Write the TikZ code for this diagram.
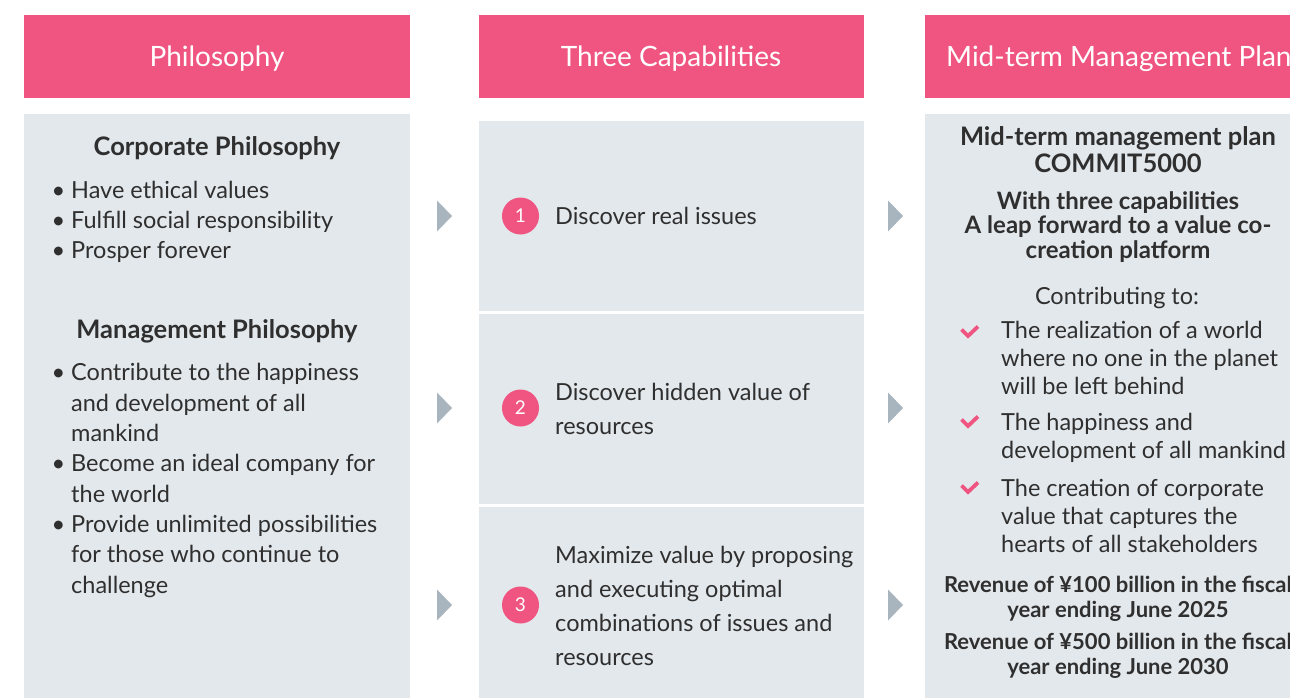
\documentclass[tikz,border=0pt]{standalone}
\usepackage{fontspec}
\setmainfont{Lato}
\definecolor{pinkh}{HTML}{EF5580}
\definecolor{panel}{HTML}{E3E8EC}
\definecolor{arrowg}{HTML}{A8B5BE}
\definecolor{txt}{HTML}{2F2F2F}
\begin{document}
\begin{tikzpicture}[x=1pt,y=-1pt,
  headbox/.style={fill=pinkh, draw=none, inner sep=0, anchor=north west},
  panelbox/.style={fill=panel, draw=none, inner sep=0, anchor=north west},
  htext/.style={text=white, font=\fontsize{28}{32}\selectfont, inner sep=0, anchor=base},
  body/.style={text=txt, font=\fontsize{23.5}{30}\selectfont, inner sep=0, align=left, anchor=base west},
  subhead/.style={text=txt, font=\bfseries\fontsize{25.5}{27}\selectfont, inner sep=0, align=center, anchor=base},
  numc/.style={circle, fill=pinkh, text=white, minimum size=37pt, inner sep=0, font=\fontsize{19}{19}\selectfont},
  tri/.style={fill=arrowg, draw=none},
  tick/.style={draw=pinkh, line width=3.8pt, line join=miter}
]
\clip (0,0) rectangle (1290,698);
\fill[white] (0,0) rectangle (1290,698);

% headers
\node[headbox, minimum width=386pt, minimum height=83pt] (h1) at (24,15) {};
\node[headbox, minimum width=385pt, minimum height=83pt] (h2) at (479,15) {};
\node[headbox, minimum width=400pt, minimum height=83pt] (h3) at (925,15) {};
\node[htext] (h1t) at (217,67) {Philosophy};
\node[htext] (h2t) at (671,67) {Three Capabilities};
\node[htext, anchor=base west] (h3t) at (946,67) {Mid-term Management Plan};

% panels
\node[panelbox, minimum width=386pt, minimum height=600pt] (p1) at (24,114) {};
\node[panelbox, minimum width=385pt, minimum height=190pt] (p2a) at (479,121) {};
\node[panelbox, minimum width=385pt, minimum height=190pt] (p2b) at (479,314) {};
\node[panelbox, minimum width=385pt, minimum height=200pt] (p2c) at (479,507) {};
\node[panelbox, minimum width=400pt, minimum height=600pt] (p3) at (925,114) {};

% arrows
\foreach \yy in {216,408,605}{
  \fill[tri] (437,\yy-15.5) -- (452,\yy) -- (437,\yy+15.5) -- cycle;
  \fill[tri] (888,\yy-15.5) -- (903,\yy) -- (888,\yy+15.5) -- cycle;
}

% column 1 (base anchor = baseline of last line)
\node[subhead] (cp) at (217,156) {Corporate Philosophy};
\node[body] (cpl) at (71,258) {\llap{\textbullet\ }Have ethical values\\\llap{\textbullet\ }Fulfill social responsibility\\\llap{\textbullet\ }Prosper forever};
\node[subhead] (mp) at (217,338) {Management Philosophy};
\node[body, font=\fontsize{23.5}{30.3}\selectfont] (mpl) at (71,593) {\llap{\textbullet\ }Contribute to the happiness\\and development of all\\mankind\\\llap{\textbullet\ }Become an ideal company for\\the world\\\llap{\textbullet\ }Provide unlimited possibilities\\for those who continue to\\challenge};

% column 2
\node[numc] (n1) at (520.5,216) {1};
\node[numc] (n2) at (520.5,408) {2};
\node[numc] (n3) at (520.5,605) {3};
\node[body, font=\fontsize{23.5}{34}\selectfont] (c1) at (555,224) {Discover real issues};
\node[body, font=\fontsize{23.5}{34}\selectfont] (c2) at (555,434) {Discover hidden value of\\resources};
\node[body, font=\fontsize{23.5}{34}\selectfont] (c3) at (555,665) {Maximize value by proposing\\and executing optimal\\combinations of issues and\\resources};

% column 3
\node[subhead] (mt) at (1118,172) {Mid-term management plan\\COMMIT5000};
\node[subhead, font=\bfseries\fontsize{24}{24.5}\selectfont] (wt) at (1118,258) {With three capabilities\\A leap forward to a value co-\\creation platform};
\node[body, anchor=base] (ct) at (1117,304) {Contributing to:};
\node[body, font=\fontsize{23.5}{28}\selectfont] (k1) at (1001,394) {The realization of a world\\where no one in the planet\\will be left behind};
\node[body, font=\fontsize{23.5}{28}\selectfont] (k2) at (1001,458) {The happiness and\\development of all mankind};
\node[body, font=\fontsize{23.5}{28}\selectfont] (k3) at (1001,552) {The creation of corporate\\value that captures the\\hearts of all stakeholders};
\foreach \yy in {332,422,488}{
  \draw[tick] (961.5,\yy-2.5) -- (968,\yy+4) -- (978,\yy-5.5);
}
\node[subhead, font=\bfseries\fontsize{22}{25}\selectfont] (r1) at (1118,617) {Revenue of ¥100 billion in the fiscal\\year ending June 2025};
\node[subhead, font=\bfseries\fontsize{22}{25}\selectfont] (r2) at (1118,674) {Revenue of ¥500 billion in the fiscal\\year ending June 2030};
\end{tikzpicture}
\end{document}
